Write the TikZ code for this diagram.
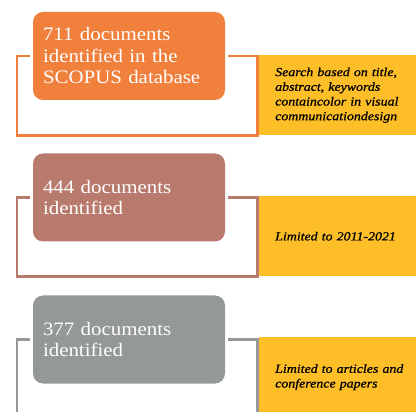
\documentclass[tikz,border=0pt]{standalone}
\usepackage{fontspec}
\setmainfont{Liberation Serif}
\newfontfamily\stagefont[FakeStretch=1.1]{Liberation Serif}
\newfontfamily\notefont[FakeStretch=1.13,FakeBold=0.8]{Liberation Serif}
\usetikzlibrary{calc}
\definecolor{stageone}{HTML}{F0803C}
\definecolor{stagetwo}{HTML}{B97A6E}
\definecolor{stagethree}{HTML}{959898}
\definecolor{notebg}{HTML}{FDBE27}
\tikzset{
  stagebox/.style={rounded corners=10pt,minimum width=192pt,minimum height=88pt,
    text width=172pt,inner xsep=10pt,align=left,text=white,
    font=\stagefont\fontsize{19}{21.5}\selectfont},
  notebox/.style={fill=notebg,minimum height=80pt,text width=141pt,inner xsep=16pt,
    align=left,anchor=north west,font=\notefont\itshape\fontsize{12.3}{14.7}\selectfont},
  bracket/.style={line width=2.5pt},
}
\begin{document}
\begin{tikzpicture}[x=1pt,y=-1pt]
\useasboundingbox (0,0) rectangle (416,412);
\clip (0,0) rectangle (416,412);
\node[stagebox,fill=stageone] (one) at (129,56) {711 documents\\identified in the\\SCOPUS database};
\node[notebox] (note1) at (259,55) {Search based on title,\\abstract, keywords\\containcolor in visual\\communicationdesign};
\draw[bracket,stageone] ([xshift=-3pt]one.west) -- ++(-13,0) |- ([xshift=-1.5pt]note1.south west)
  -- ([xshift=-1.5pt]note1.west |- one.east) -- ([xshift=3pt]one.east);
\node[stagebox,fill=stagetwo] (two) at (129,197.5) {444 documents\\identified};
\node[notebox] (note2) at (259,196) {Limited to 2011-2021};
\draw[bracket,stagetwo] ([xshift=-3pt]two.west) -- ++(-13,0) |- ([xshift=-1.5pt]note2.south west)
  -- ([xshift=-1.5pt]note2.west |- two.east) -- ([xshift=3pt]two.east);
\node[stagebox,fill=stagethree] (three) at (129,339.5) {377 documents\\identified};
\node[notebox] (note3) at (259,337) {Limited to articles and\\conference papers};
\draw[bracket,stagethree] ([xshift=-3pt]three.west) -- ++(-13,0) |- ([xshift=-1.5pt]note3.south west)
  -- ([xshift=-1.5pt]note3.west |- three.east) -- ([xshift=3pt]three.east);
\end{tikzpicture}
\end{document}
